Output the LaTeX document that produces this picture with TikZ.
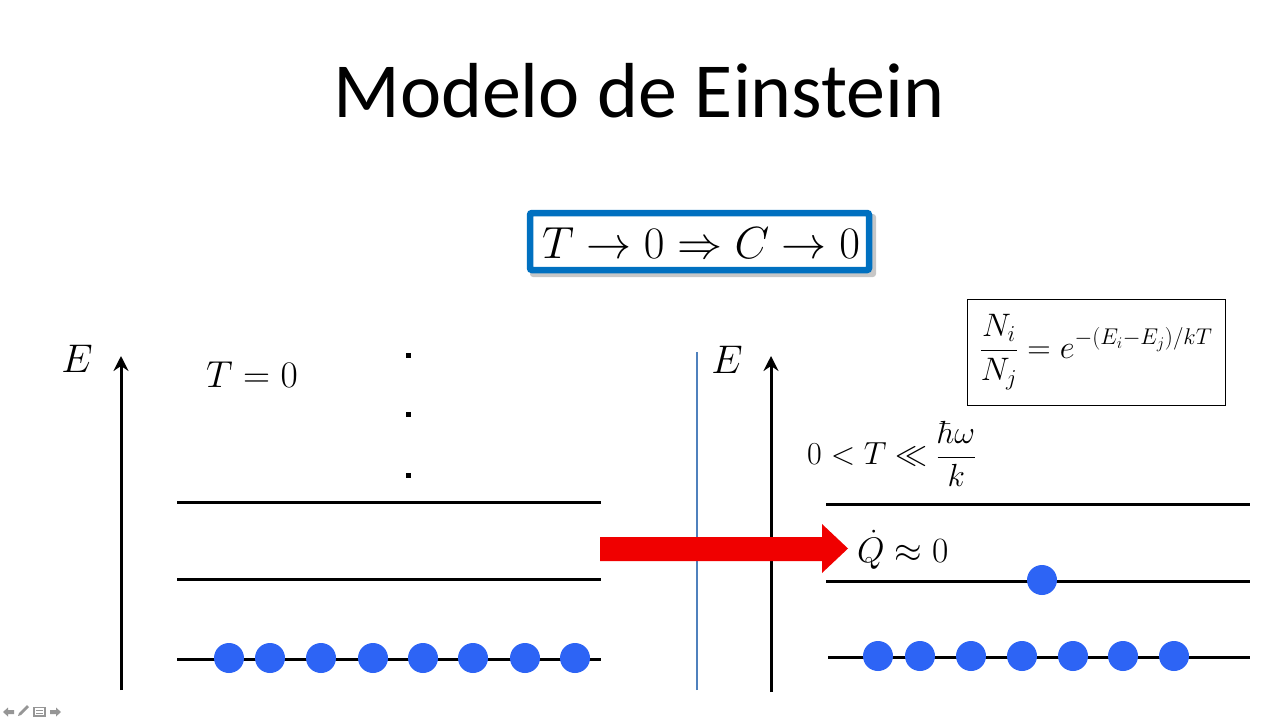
\documentclass[tikz,border=0pt]{standalone}
\usepackage{fix-cm}
\usepackage{fontspec}
\newfontfamily\titlefont{Carlito}
\usetikzlibrary{arrows.meta}
\definecolor{boxblue}{RGB}{0,112,192}
\definecolor{lineblue}{RGB}{79,129,189}
\definecolor{ballblue}{RGB}{45,100,245}
\definecolor{arrowred}{RGB}{240,0,0}
\definecolor{icongray}{RGB}{150,150,150}
\tikzset{
  level/.style={line width=3pt,black},
  axis/.style={line width=3pt,black,-{Stealth[length=15pt,width=15pt,inset=5pt]}},
  ball/.style={circle,fill=ballblue,draw=none,minimum size=30pt,inner sep=0pt},
  dotmark/.style={fill=black,minimum size=5pt,inner sep=0pt,draw=none},
  mathlbl/.style={inner sep=0pt,font=\fontsize{38}{44}\selectfont},
}
\begin{document}
\begin{tikzpicture}[x=1pt,y=-1pt]
\useasboundingbox (0,0) rectangle (1280,720);
\fill[white] (0,0) rectangle (1280,720);
% title
\node[anchor=base,inner sep=0pt,font=\titlefont\fontsize{78}{86}\selectfont] (title) at (639,117) {Modelo de Einstein};
% top boxed formula
\fill[black,opacity=0.22,rounded corners=3pt] (530,214) rectangle (876,277);
\node[draw=boxblue,line width=6.5pt,fill=white,rounded corners=2pt,minimum width=339pt,minimum height=57pt,inner sep=0pt] (cbox) at (699.5,241.5) {};
\node[anchor=base,inner sep=0pt,font=\fontsize{45}{50}\selectfont] (cform) at (701,258) {$T\rightarrow 0\Rightarrow C\rightarrow 0$};
% right formula box
\node[draw=black,line width=1pt,minimum width=258pt,minimum height=106pt,inner sep=0pt,font=\fontsize{32.5}{38}\selectfont] (nbox) at (1096,352) {$\displaystyle\frac{N_i}{N_j}=e^{-(E_i-E_j)/kT}$};
% axes
\coordinate (la0) at (121,690);
\coordinate (la1) at (121,356);
\draw[axis] (la0) -- (la1);
\coordinate (ra0) at (771,692);
\coordinate (ra1) at (771,356);
\draw[axis] (ra0) -- (ra1);
\coordinate (bl0) at (697,690);
\coordinate (bl1) at (697,352);
\draw[lineblue,line width=2.5pt] (bl0) -- (bl1);
% labels
\node[mathlbl,anchor=base,font=\fontsize{40}{46}\selectfont] (El) at (77,372) {$E$};
\node[mathlbl,anchor=base,font=\fontsize{40}{46}\selectfont] (Er) at (727,373) {$E$};
\node[mathlbl,anchor=base west,font=\fontsize{37.5}{42}\selectfont] (T0) at (206,387) {$T=0$};
\node[mathlbl,anchor=west,font=\fontsize{32}{36}\selectfont] (Tll) at (807,454) {$0<T\ll\displaystyle\frac{\hbar\omega}{k}$};
\node[mathlbl,anchor=base west,font=\fontsize{35.5}{40}\selectfont] (Q) at (857,562) {$\dot Q\approx 0$};
% dots
\node[dotmark] (d1) at (408,355) {};
\node[dotmark] (d2) at (408,414) {};
\node[dotmark] (d3) at (408,475) {};
% left levels
\coordinate (l1a) at (177,502); \coordinate (l1b) at (601,502);
\coordinate (l2a) at (177,579); \coordinate (l2b) at (601,579);
\coordinate (l3a) at (177,659); \coordinate (l3b) at (601,659);
\draw[level] (l1a) -- (l1b);
\draw[level] (l2a) -- (l2b);
\draw[level] (l3a) -- (l3b);
% right levels
\coordinate (r1a) at (826,504); \coordinate (r1b) at (1250,504);
\coordinate (r2a) at (826,581); \coordinate (r2b) at (1250,581);
\coordinate (r3a) at (828,657); \coordinate (r3b) at (1250,657);
\draw[level] (r1a) -- (r1b);
\draw[level] (r2a) -- (r2b);
\draw[level] (r3a) -- (r3b);
% left balls
\foreach \x [count=\i] in {229,270,321,373,423,473,525,575} {
  \node[ball] (lb\i) at (\x,658) {};
}
% right balls
\foreach \x [count=\i] in {878,920,971,1022,1073,1123,1174} {
  \node[ball] (rb\i) at (\x,656) {};
}
\node[ball] (rbx) at (1042,580) {};
% red block arrow
\fill[arrowred] (600,537) -- (822,537) -- (822,524) -- (848,548.5) -- (822,573) -- (822,561) -- (600,561) -- cycle;
% slideshow icons
\fill[icongray] (3,712) -- (8,707.5) -- (8,710) -- (14,710) -- (14,714) -- (8,714) -- (8,716.5) -- cycle;
\fill[icongray] (18,716) -- (19,713) -- (27,705) -- (29,707) -- (21,715) -- cycle;
\draw[icongray,line width=1.2pt] (34,707.5) rectangle (45,716);
\draw[icongray,line width=1pt] (36,710.5) -- (43,710.5) (36,713) -- (43,713);
\fill[icongray] (61,712) -- (56,707.5) -- (56,710) -- (50,710) -- (50,714) -- (56,714) -- (56,716.5) -- cycle;
\end{tikzpicture}
\end{document}
